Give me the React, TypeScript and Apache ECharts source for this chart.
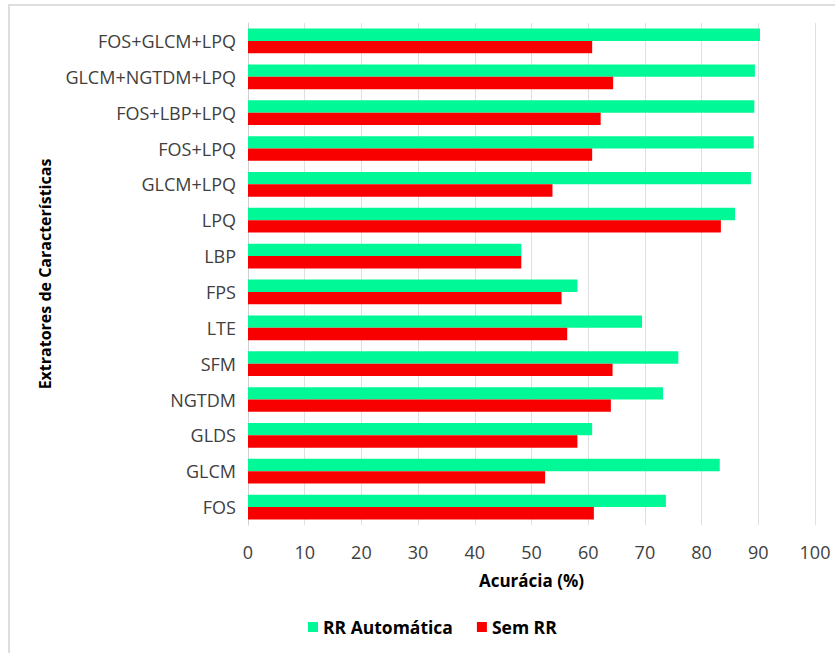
import React, { useEffect, useRef } from "react";
import * as echarts from "echarts";

// Feature extractors, bottom to top as they appear on the category axis
const extractors = [
  "FOS",
  "GLCM",
  "GLDS",
  "NGTDM",
  "SFM",
  "LTE",
  "FPS",
  "LBP",
  "LPQ",
  "GLCM+LPQ",
  "FOS+LPQ",
  "FOS+LBP+LPQ",
  "GLCM+NGTDM+LPQ",
  "FOS+GLCM+LPQ",
];

// Accuracy (%) with automatic region of interest
const rrAutomatica = [73.7, 83.2, 60.7, 73.2, 75.9, 69.5, 58.1, 48.2, 85.9, 88.7, 89.2, 89.3, 89.4, 90.3];

// Accuracy (%) without region of interest
const semRR = [61.0, 52.4, 58.1, 64.0, 64.3, 56.3, 55.3, 48.2, 83.4, 53.7, 60.7, 62.2, 64.4, 60.7];

const xTicks = { min: 0, max: 100, interval: 10 };

const FONT = "'Open Sans', 'Liberation Sans', sans-serif";
const GREEN = "#00F996";
const RED = "#F80000";

export default function App() {
  const ref = useRef<HTMLDivElement>(null);

  useEffect(() => {
    if (!ref.current) return;
    const chart = echarts.init(ref.current, undefined, { renderer: "svg" });
    chart.setOption({
      animation: false,
      backgroundColor: "#ffffff",
      textStyle: { fontFamily: FONT },
      graphic: [
        {
          type: "rect",
          shape: { x: 9, y: 5, width: 900, height: 700 },
          style: { fill: "none", stroke: "#dedede", lineWidth: 2 },
          silent: true,
        },
      ],
      grid: { left: 248, right: 20, top: 23, bottom: 128, containLabel: false },
      legend: {
        data: ["RR Automática", "Sem RR"],
        bottom: 12,
        left: 303,
        icon: "rect",
        itemWidth: 10,
        itemHeight: 10,
        itemGap: 24,
        textStyle: { fontFamily: FONT, fontSize: 17.5, fontWeight: "bold", color: "#000" },
      },
      xAxis: {
        type: "value",
        min: xTicks.min,
        max: xTicks.max,
        interval: xTicks.interval,
        name: "Acurácia (%)",
        nameLocation: "middle",
        nameGap: 47,
        nameTextStyle: { fontFamily: FONT, fontSize: 17, fontWeight: "bold", color: "#000" },
        axisLine: { show: false },
        axisTick: { show: false },
        axisLabel: { fontFamily: FONT, fontSize: 18, color: "#404040", margin: 18 },
        splitLine: { show: true, lineStyle: { color: "#e0e0e0", width: 1 } },
      },
      yAxis: {
        type: "category",
        data: extractors,
        name: "Extratores de Características",
        nameLocation: "middle",
        nameGap: 195,
        nameTextStyle: { fontFamily: FONT, fontSize: 16, fontWeight: "bold", color: "#000" },
        axisLine: { show: true, lineStyle: { color: "#d0d0d0", width: 1 } },
        axisTick: { show: false },
        axisLabel: { fontFamily: FONT, fontSize: 18, color: "#404040", margin: 12 },
      },
      series: [
        {
          name: "RR Automática",
          type: "bar",
          data: rrAutomatica,
          barGap: "0%",
          barCategoryGap: "31%",
          itemStyle: { color: GREEN },
        },
        {
          name: "Sem RR",
          type: "bar",
          data: semRR,
          barGap: "0%",
          barCategoryGap: "31%",
          itemStyle: { color: RED },
        },
      ],
    });
    return () => chart.dispose();
  }, []);

  return (
    <div
      ref={ref}
      style={{ position: "fixed", left: 0, top: 0, width: 835, height: 653 }}
    />
  );
}
